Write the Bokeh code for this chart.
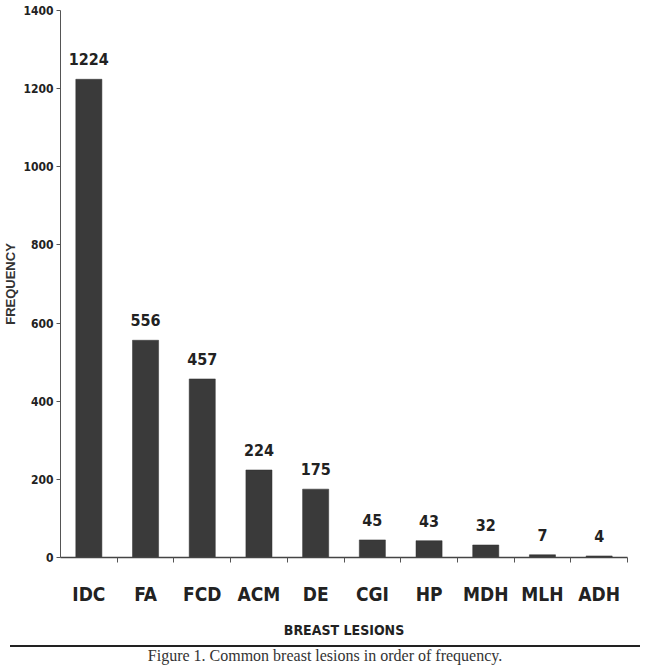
from bokeh.plotting import figure
from bokeh.models import (ColumnDataSource, FactorRange, Range1d, LinearAxis,
                          CategoricalAxis, FixedTicker, Div)
from bokeh.layouts import column
from bokeh.core.properties import value
from bokeh.embed import file_html
from bokeh.resources import INLINE

# ---- data ----
lesions = ["IDC", "FA", "FCD", "ACM", "DE", "CGI", "HP", "MDH", "MLH", "ADH"]
frequency = [1224, 556, 457, 224, 175, 45, 43, 32, 7, 4]
y_ticks = [0, 200, 400, 600, 800, 1000, 1200, 1400]
x_title = "BREAST LESIONS"
y_title = "FREQUENCY"
caption = "Figure 1. Common breast lesions in order of frequency."

NARROW = "DejaVu Sans Condensed, Liberation Sans"
INK = "#222222"

src = ColumnDataSource(dict(x=lesions, y=frequency, lab=[str(v) for v in frequency]))

p = figure(x_range=FactorRange(factors=lesions), y_range=Range1d(0, y_ticks[-1]),
           width=650, height=640, output_backend="svg", toolbar_location=None,
           x_axis_location=None, min_border_left=58, min_border_right=23,
           min_border_top=10, min_border_bottom=5)
p.outline_line_color = None
p.xgrid.grid_line_color = None
p.ygrid.grid_line_color = None
p.background_fill_color = "white"
p.border_fill_color = "white"

p.vbar(x="x", top="y", width=0.46, source=src, fill_color="#3a3a3a",
       line_color="#2e2e2e", line_width=0.5)
p.text(x="x", y="y", text="lab", source=src, text_align="center",
       text_baseline="middle", y_offset=-20, text_font=value(NARROW),
       text_font_style="bold", text_font_size="16px", text_color=INK)

# y axis
ya = p.yaxis[0]
ya.ticker = FixedTicker(ticks=y_ticks)
ya.minor_tick_line_color = None
ya.major_tick_out = 4
ya.major_tick_in = 0
ya.axis_line_color = "#555555"
ya.major_tick_line_color = "#555555"
ya.major_label_text_font = NARROW
ya.major_label_text_font_style = "bold"
ya.major_label_text_font_size = "12px"
ya.major_label_text_color = INK
ya.major_label_standoff = 3
ya.axis_label = y_title
ya.axis_label_text_font = "Liberation Sans"
ya.axis_label_text_font_style = "bold"
ya.axis_label_text_font_size = "13px"
ya.axis_label_text_color = "#333333"
ya.axis_label_standoff = 2

# x axis: ticks at the category boundaries (synthetic coordinates 1..N)
bounds = list(range(1, len(lesions) + 1))
tick_axis = LinearAxis(ticker=FixedTicker(ticks=bounds))
tick_axis.major_label_overrides = {b: "" for b in bounds}
tick_axis.major_tick_out = 5
tick_axis.major_tick_in = 0
tick_axis.minor_tick_line_color = None
tick_axis.major_label_text_font_size = "10px"
tick_axis.major_label_standoff = 0
tick_axis.axis_line_color = "#444444"
tick_axis.axis_line_width = 1.5
tick_axis.major_tick_line_color = "#555555"
p.add_layout(tick_axis, "below")

cat_axis = CategoricalAxis()
cat_axis.axis_line_color = None
cat_axis.major_tick_line_color = None
cat_axis.minor_tick_line_color = None
cat_axis.major_label_text_font = NARROW
cat_axis.major_label_text_font_style = "bold"
cat_axis.major_label_text_font_size = "19px"
cat_axis.major_label_text_color = INK
cat_axis.major_label_standoff = 14
cat_axis.axis_label = x_title
cat_axis.axis_label_text_font = NARROW
cat_axis.axis_label_text_font_style = "bold"
cat_axis.axis_label_text_font_size = "14px"
cat_axis.axis_label_text_color = INK
cat_axis.axis_label_standoff = 14
p.add_layout(cat_axis, "below")

cap = Div(text=(
    '<div style="border-top:2px solid #222; width:630px; margin:0 0 0 5px;"></div>'
    '<div style="width:640px; text-align:center; font-family:\'Liberation Serif\';'
    ' font-size:16px; line-height:16px; margin-top:1px; color:#333;">'
    + caption + '</div>'), width=650, height=29)

layout = column(p, cap, spacing=0)
open("out.html", "w").write(file_html(layout, INLINE))
